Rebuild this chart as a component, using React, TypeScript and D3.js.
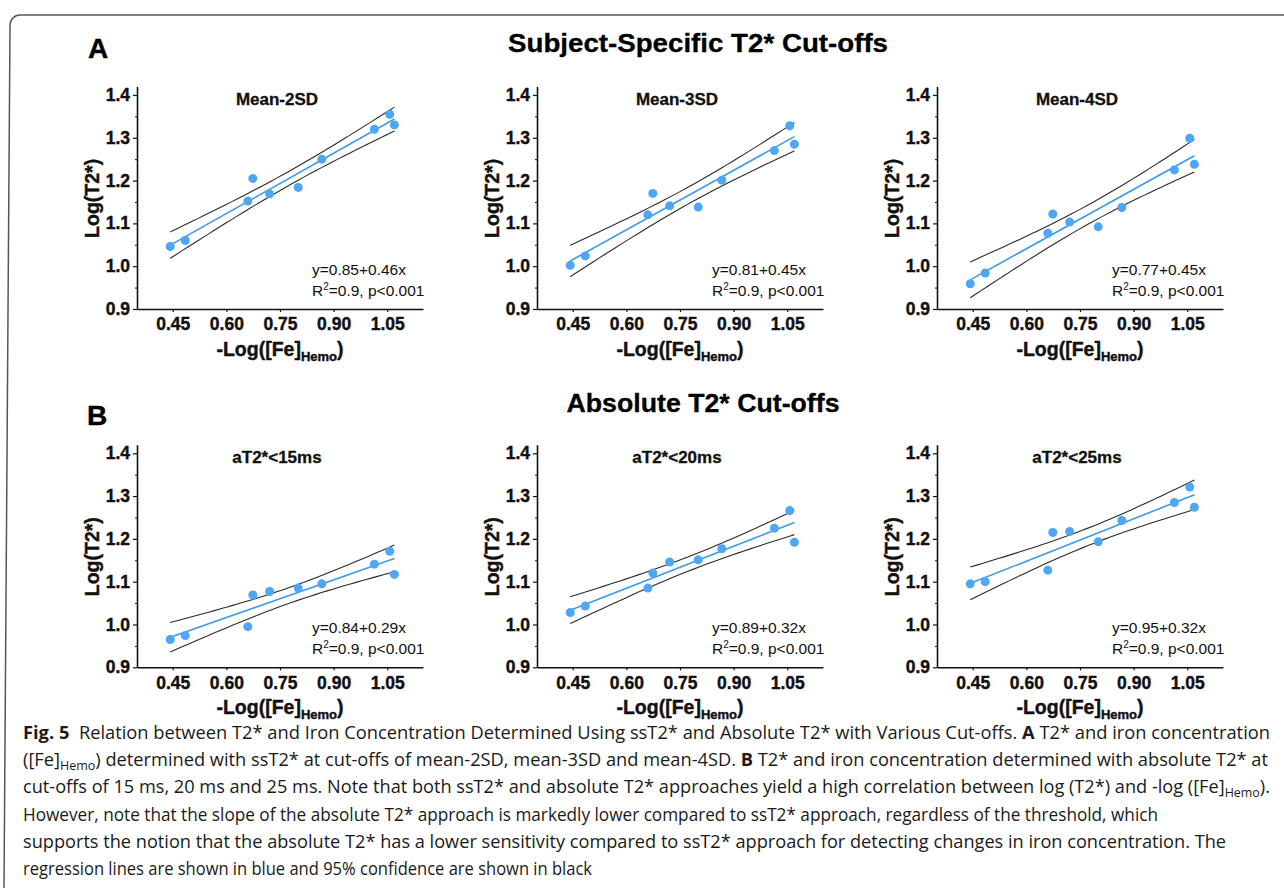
import * as d3 from "d3";
import { useEffect, useRef } from "react";

const W = 1284;
const H = 889;

// -Log([Fe]Hemo) of the ten subjects, shared by every panel
const xValues = [0.443, 0.485, 0.66, 0.674, 0.721, 0.801, 0.867, 1.014, 1.057, 1.07];

// Log(T2*) per cut-off
const mean2SD = [1.046, 1.06, 1.152, 1.205, 1.169, 1.184, 1.25, 1.32, 1.355, 1.33];
const mean3SD = [1.002, 1.024, 1.12, 1.17, 1.141, 1.138, 1.201, 1.27, 1.328, 1.285];
const mean4SD = [0.959, 0.984, 1.077, 1.122, 1.103, 1.092, 1.137, 1.225, 1.299, 1.238];
const abs15 = [0.965, 0.974, 0.995, 1.069, 1.077, 1.085, 1.095, 1.141, 1.171, 1.117];
const abs20 = [1.028, 1.043, 1.085, 1.12, 1.146, 1.151, 1.177, 1.225, 1.266, 1.192];
const abs25 = [1.095, 1.1, 1.127, 1.215, 1.217, 1.193, 1.243, 1.285, 1.321, 1.274];

const panelTitles = ["Mean-2SD", "Mean-3SD", "Mean-4SD", "aT2*<15ms", "aT2*<20ms", "aT2*<25ms"];
const equations = ["y=0.85+0.46x", "y=0.81+0.45x", "y=0.77+0.45x", "y=0.84+0.29x", "y=0.89+0.32x", "y=0.95+0.32x"];
const statsText = "=0.9, p<0.001";
const sectionTitles = ["Subject-Specific T2* Cut-offs", "Absolute T2* Cut-offs"];
const sectionLetters = ["A", "B"];

const xTicks = [0.45, 0.6, 0.75, 0.9, 1.05];
const yTicks = [0.9, 1.0, 1.1, 1.2, 1.3, 1.4];
const yMinorTicks = [0.95, 1.05, 1.15, 1.25, 1.35];

type Seg = { t: string; bold?: boolean; sub?: boolean };
const captionLines: Seg[][] = [
  [
    { t: "Fig. 5", bold: true },
    { t: "  Relation between T2* and Iron Concentration Determined Using ssT2* and Absolute T2* with Various Cut-offs. " },
    { t: "A", bold: true },
    { t: " T2* and iron concentration" },
  ],
  [
    { t: "([Fe]" },
    { t: "Hemo", sub: true },
    { t: ") determined with ssT2* at cut-offs of mean-2SD, mean-3SD and mean-4SD. " },
    { t: "B", bold: true },
    { t: " T2* and iron concentration determined with absolute T2* at" },
  ],
  [
    { t: "cut-offs of 15 ms, 20 ms and 25 ms. Note that both ssT2* and absolute T2* approaches yield a high correlation between log (T2*) and -log ([Fe]" },
    { t: "Hemo", sub: true },
    { t: ")." },
  ],
  [{ t: "However, note that the slope of the absolute T2* approach is markedly lower compared to ssT2* approach, regardless of the threshold, which" }],
  [{ t: "supports the notion that the absolute T2* has a lower sensitivity compared to ssT2* approach for detecting changes in iron concentration. The" }],
  [{ t: "regression lines are shown in blue and 95% confidence are shown in black" }],
];

const FONT = "'Liberation Sans', Arial, Helvetica, sans-serif";
const CAPTION_FONT = "'Open Sans', 'Noto Sans', sans-serif";

const colX = [137, 537, 937];
const rowBase = [309, 667.3];
const plotW = 286;
const plotH = 222.6;
const captionEnds = [1270, 1268, 1270, 1158, 1226, 592];

// least squares fit + 95% confidence band of the mean
const fitLine = (xs: number[], ys: number[]) => {
  const n = xs.length;
  const mx = d3.mean(xs) as number;
  const my = d3.mean(ys) as number;
  const sxx = d3.sum(xs, (v) => (v - mx) ** 2);
  const sxy = d3.sum(xs.map((v, i) => (v - mx) * (ys[i] - my)));
  const b = sxy / sxx;
  const a = my - b * mx;
  const sse = d3.sum(xs.map((v, i) => (ys[i] - a - b * v) ** 2));
  const s = Math.sqrt(sse / (n - 2));
  const t = 2.306; // t(0.975, df=8)
  const half = (v: number) => t * s * Math.sqrt(1 / n + (v - mx) ** 2 / sxx);
  return { a, b, half };
};

const App = () => {
  const svgRef = useRef<SVGSVGElement>(null);

  useEffect(() => {
    const svg = d3.select(svgRef.current);
    svg.selectAll("*").remove();

    svg.append("rect").attr("width", W).attr("height", H).attr("fill", "#fff");

    // frame
    svg
      .append("path")
      .attr("d", "M1284,15 H20 A10,10 0 0 0 10,25 L4,888")
      .attr("fill", "none")
      .attr("stroke", "#555")
      .attr("stroke-width", 1.5);

    // section letters and titles
    const letterPos = [
      [88, 58],
      [87, 425],
    ];
    const titlePos = [
      [698, 52, 380],
      [703, 412, 273],
    ];
    sectionLetters.forEach((l, i) => {
      svg
        .append("text")
        .attr("x", letterPos[i][0])
        .attr("y", letterPos[i][1])
        .attr("font-family", FONT)
        .attr("font-weight", "bold")
        .attr("font-size", 28)
        .attr("fill", "#000")
        .attr("stroke", "#000")
        .attr("stroke-width", 0.4)
        .text(l);
      svg
        .append("text")
        .attr("x", titlePos[i][0])
        .attr("y", titlePos[i][1])
        .attr("text-anchor", "middle")
        .attr("font-family", FONT)
        .attr("font-weight", "bold")
        .attr("font-size", 25)
        .attr("textLength", titlePos[i][2])
        .attr("lengthAdjust", "spacingAndGlyphs")
        .attr("fill", "#000")
        .attr("stroke", "#000")
        .attr("stroke-width", 0.3)
        .text(sectionTitles[i]);
    });

    const xScale = d3.scaleLinear().domain([0.35, 1.15]).range([0, plotW]);
    const yScale = d3.scaleLinear().domain([0.9, 1.42]).range([plotH, 0]);

    const series = [mean2SD, mean3SD, mean4SD, abs15, abs20, abs25];

    series.forEach((ys, idx) => {
      const r = Math.floor(idx / 3);
      const c = idx % 3;
      const g = svg
        .append("g")
        .attr("transform", `translate(${colX[c]}, ${rowBase[r] - plotH})`);

      // axes
      const yAxis = g
        .append("g")
        .call(
          d3
            .axisLeft(yScale)
            .tickValues(yTicks)
            .tickSize(4)
            .tickSizeOuter(0)
            .tickPadding(3)
            .tickFormat(d3.format(".1f") as any)
        )
        .attr("font-family", FONT)
        .attr("font-size", 17.5)
        .attr("font-weight", "bold");
      yAxis.select(".domain").attr("stroke", "#111").attr("stroke-width", 1.6);
      yAxis.selectAll("line").attr("stroke", "#111").attr("stroke-width", 1.2);
      yAxis.selectAll("text").attr("fill", "#111").attr("stroke", "#111").attr("stroke-width", 0.4);

      const yMinor = g
        .append("g")
        .call(d3.axisLeft(yScale).tickValues(yMinorTicks).tickSize(2).tickFormat(() => ""));
      yMinor.select(".domain").remove();
      yMinor.selectAll("line").attr("stroke", "#111");

      const xAxis = g
        .append("g")
        .attr("transform", `translate(0, ${plotH})`)
        .call(
          d3
            .axisBottom(xScale)
            .tickValues(xTicks)
            .tickSize(3)
            .tickSizeOuter(0)
            .tickPadding(6)
            .tickFormat(d3.format(".2f") as any)
        )
        .attr("font-family", FONT)
        .attr("font-size", 17.5)
        .attr("font-weight", "bold");
      xAxis.select(".domain").attr("stroke", "#111").attr("stroke-width", 1.6);
      xAxis.selectAll("line").attr("stroke", "#111").attr("stroke-width", 1.2);
      xAxis.selectAll("text").attr("fill", "#111").attr("stroke", "#111").attr("stroke-width", 0.4);

      // axis titles
      g.append("text")
        .attr("transform", `translate(-38, 112) rotate(-90)`)
        .attr("text-anchor", "middle")
        .attr("font-family", FONT)
        .attr("font-weight", "bold")
        .attr("font-size", 19.5)
        .attr("fill", "#111")
        .attr("stroke", "#111")
        .attr("stroke-width", 0.4)
        .text("Log(T2*)");

      const xl = g
        .append("text")
        .attr("x", 143)
        .attr("y", plotH + 47)
        .attr("text-anchor", "middle")
        .attr("font-family", FONT)
        .attr("font-weight", "bold")
        .attr("font-size", 19.5)
        .attr("fill", "#111")
        .attr("stroke", "#111")
        .attr("stroke-width", 0.4);
      xl.append("tspan").text("-Log([Fe]");
      xl.append("tspan").attr("font-size", 13).attr("dy", 5).text("Hemo");
      xl.append("tspan").attr("dy", -5).text(")");

      // panel title
      g.append("text")
        .attr("x", 140)
        .attr("y", yScale(1.4) + 10)
        .attr("text-anchor", "middle")
        .attr("font-family", FONT)
        .attr("font-weight", "bold")
        .attr("font-size", 17)
        .attr("fill", "#111")
        .attr("stroke", "#111")
        .attr("stroke-width", 0.3)
        .text(panelTitles[idx]);

      // fit and confidence band
      const { a, b, half } = fitLine(xValues, ys);
      const [x0, x1] = d3.extent(xValues) as [number, number];
      const xs = d3.range(0, 41).map((i) => x0 + ((x1 - x0) * i) / 40);
      const line = d3
        .line<number>()
        .x((d) => xScale(d))
        .curve(d3.curveLinear);

      g.append("path")
        .attr("fill", "none")
        .attr("stroke", "#2b2b2b")
        .attr("stroke-width", 1.1)
        .attr("d", line.y((d) => yScale(a + b * d + half(d)))(xs));
      g.append("path")
        .attr("fill", "none")
        .attr("stroke", "#2b2b2b")
        .attr("stroke-width", 1.1)
        .attr("d", line.y((d) => yScale(a + b * d - half(d)))(xs));
      g.append("path")
        .attr("fill", "none")
        .attr("stroke", "#3c9bec")
        .attr("stroke-width", 1.6)
        .attr("d", line.y((d) => yScale(a + b * d))([x0, x1]));

      // points
      g.selectAll("circle")
        .data(ys)
        .join("circle")
        .attr("cx", (_, i) => xScale(xValues[i]))
        .attr("cy", (d) => yScale(d))
        .attr("r", 4.5)
        .attr("fill", "#4ea6f4");

      // annotations
      g.append("text")
        .attr("x", 175)
        .attr("y", plotH - 34)
        .attr("font-family", FONT)
        .attr("font-size", 15.5)
        .attr("fill", "#111")
        .text(equations[idx]);
      const st = g
        .append("text")
        .attr("x", 175)
        .attr("y", plotH - 13)
        .attr("font-family", FONT)
        .attr("font-size", 15.5)
        .attr("fill", "#111");
      st.append("tspan").text("R");
      st.append("tspan").attr("font-size", 10).attr("dy", -6).text("2");
      st.append("tspan").attr("dy", 6).text(statsText);
    });

    // caption
    captionLines.forEach((segs, i) => {
      const t = svg
        .append("text")
        .attr("x", 23)
        .attr("y", 739 + i * 27.2)
        .attr("font-family", CAPTION_FONT)
        .attr("font-size", 17.5)
        .attr("fill", "#1a1a1a")
        .attr("textLength", captionEnds[i] - 23)
        .attr("lengthAdjust", "spacingAndGlyphs")
        .style("white-space", "pre");
      let shift = 0;
      segs.forEach((s) => {
        const target = s.sub ? 4 : 0;
        const sp = t.append("tspan").text(s.t);
        if (target !== shift) {
          sp.attr("dy", target - shift);
          shift = target;
        }
        if (s.bold) sp.attr("font-weight", "bold");
        if (s.sub) sp.attr("font-size", 12);
      });
    });
  }, []);

  return (
    <svg
      ref={svgRef}
      width={W}
      height={H}
      style={{ position: "absolute", left: 0, top: 0 }}
    />
  );
};

export default App;
